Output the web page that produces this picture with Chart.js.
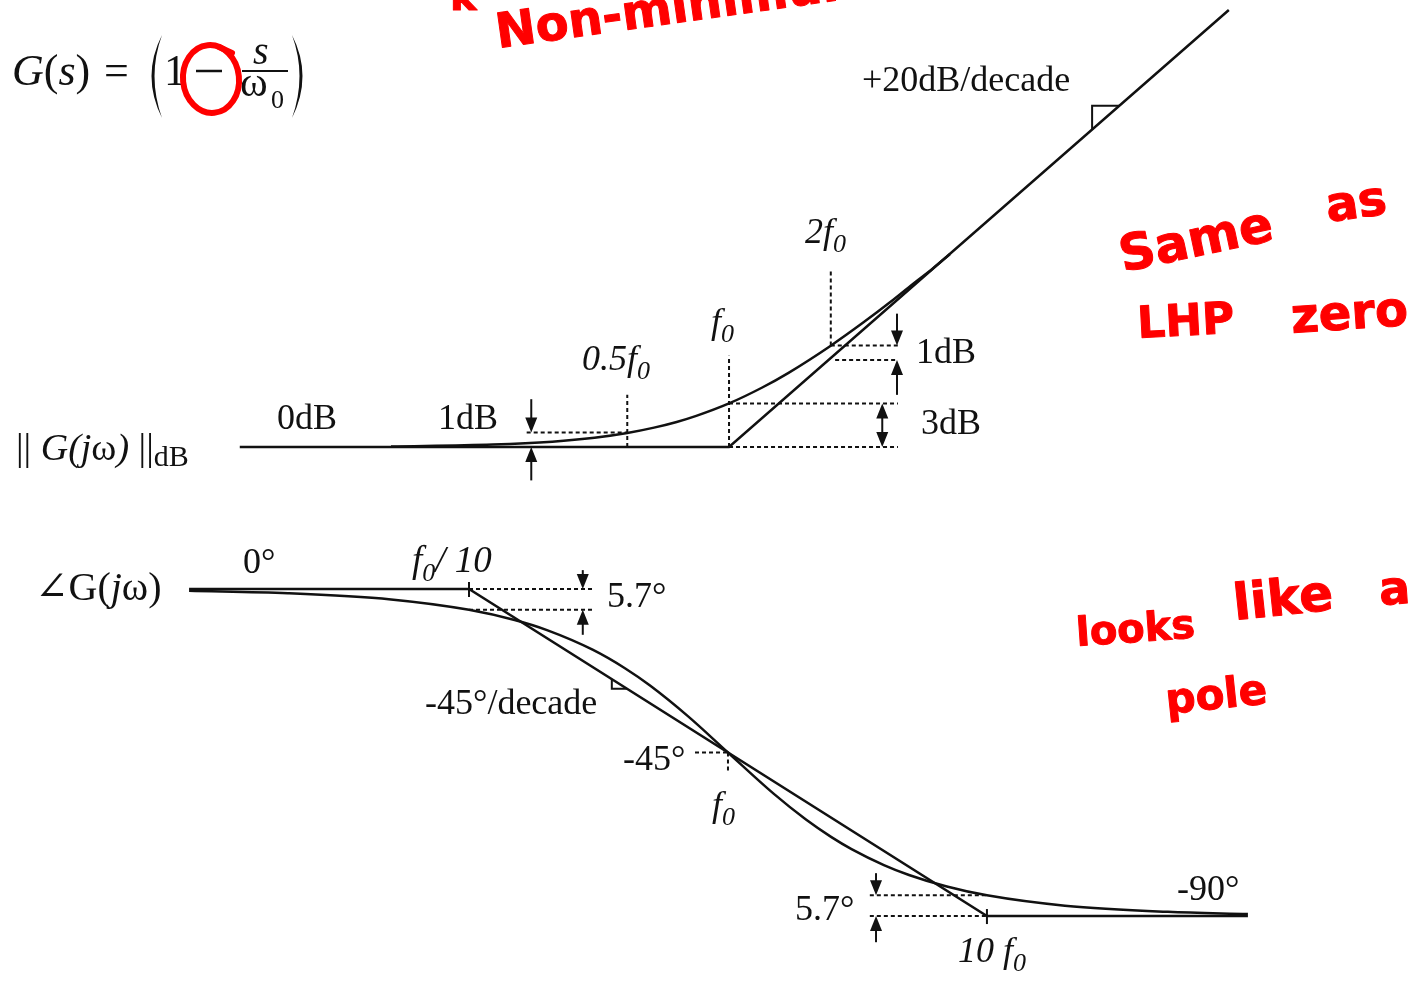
<!DOCTYPE html>
<html>
<head>
<meta charset="utf-8">
<script src="https://cdn.jsdelivr.net/npm/chart.js@4.4.1/dist/chart.umd.min.js"></script>
<style>
  html, body { margin: 0; padding: 0; background: #fff; }
  #wrap { width: 1422px; height: 984px; position: relative; }
</style>
</head>
<body>
<div id="wrap"><canvas id="bode"></canvas></div>
<script>
// frequencies are in units of f0, magnitude in dB, phase in degrees

// magnitude: asymptote and actual response
const magAsymF  = [0.0357, 1, 30.1];
const magAsymDb = [0, 0, 30.14];
const magCurveF  = [0.1, 0.2, 0.3, 0.4, 0.5, 0.6, 0.7, 0.8, 1, 1.25, 1.5, 2, 2.5, 3, 3.5, 4, 4.5];
const magCurveDb = [0.04, 0.17, 0.37, 0.64, 0.97, 1.34, 1.73, 2.15, 3.01, 4.09, 5.12, 6.99, 8.60, 10.0, 11.25, 12.3, 13.3];

// phase: asymptote and actual response
const phAsymF   = [0.0083, 0.1, 10, 101.8];
const phAsymDeg = [0, 0, -90, -90];
const phCurveF   = [0.0083, 0.02, 0.05, 0.1, 0.15, 0.2, 0.3, 0.4, 0.5, 0.7, 1, 1.5, 2, 2.5, 3, 4, 5, 7, 10, 20, 50, 101.8];
const phCurveDeg = [-0.48, -1.15, -2.86, -5.71, -8.53, -11.31, -16.70, -21.80, -26.57, -34.99, -45, -56.31, -63.43, -68.20, -71.57, -75.96, -78.69, -81.87, -84.29, -87.14, -88.85, -89.44];

// dotted guide segments [f1, v1, f2, v2]
const magGuides = [
  [0.252, 1, 0.5, 1],
  [0.5, 0, 0.5, 3.6],
  [1, 0, 1, 6.3],
  [2, 7, 2, 12.3],
  [1, 3, 3.16, 3],
  [1, 0, 3.16, 0],
  [2, 7, 3.16, 7],
  [2.06, 6, 3.16, 6]
];
const phGuides = [
  [0.1, 0, 0.301, 0],
  [0.1, -5.7, 0.301, -5.7],
  [0.746, -45, 1, -45],
  [1, -45, 1, -50.5],
  [3.53, -84.3, 10, -84.3],
  [3.53, -90, 10, -90]
];

// dimension arrows [f, from, to, double-headed]
const magArrows = [
  [0.26, 3.3, 1, false],
  [0.26, -2.3, 0, false],
  [3.14, 9.2, 7, false],
  [3.14, 3.6, 6, false],
  [2.84, 0, 3, true]
];
const phArrows = [
  [0.275, 5.2, 0, false],
  [0.275, -12.6, -5.7, false],
  [3.73, -78.2, -84.3, false],
  [3.73, -97.2, -90, false]
];

// break-point ticks on the phase asymptote [f, deg]
const phTicks = [[0.1, 0], [10, -90]];

// slope markers: pair of frequencies on each asymptote
const magSlopeMark = [11.86, 14.28];
const phSlopeMark  = [0.356, 0.407];

const SERIF = '"Liberation Serif", "DejaVu Serif", serif';
const R = s => s + 'px ' + SERIF;
const I = s => 'italic ' + s + 'px ' + SERIF;

// text runs: [x, baseline, [[text, font, dy], ...]]
const labels = [
  [862, 91, [['+20dB/decade', R(36)]]],
  [805, 243, [['2f', I(36)], ['0', I(26), 9]]],
  [711, 333, [['f', I(36)], ['0', I(26), 9]]],
  [582, 370, [['0.5f', I(36)], ['0', I(26), 9]]],
  [916, 363, [['1dB', R(36)]]],
  [921, 434, [['3dB', R(36)]]],
  [277, 429, [['0dB', R(36)]]],
  [438, 429, [['1dB', R(36)]]],
  [16, 460, [['|| ', R(38)], ['G(j', I(38)], ['ω', R(38)], [') ', I(38)], ['||', R(38)], ['dB', R(30), 6]]],
  [35, 600, [['∠', R(40)], ['G(', R(40)], ['j', I(40)], ['ω)', R(40)]]],
  [243, 573, [['0°', R(36)]]],
  [412, 572, [['f', I(37)], ['0', I(26), 9], ['/ 10', I(37)]]],
  [607, 607, [['5.7°', R(36)]]],
  [425, 714, [['-45°/decade', R(36)]]],
  [623, 770, [['-45°', R(36)]]],
  [712, 816, [['f', I(36)], ['0', I(26), 9]]],
  [795, 920, [['5.7°', R(36)]]],
  [1177, 900, [['-90°', R(36)]]],
  [958, 962, [['10 f', I(36)], ['0', I(26), 9]]]
];

// red marker notes: [text, x, baseline, size, angle°]
const notes = [
  ['k', 450, 10, 40, 0],
  ['Non-minimum', 498, 48, 48, -8],
  ['Same', 1123, 272, 50, -12],
  ['as', 1328, 222, 48, -8],
  ['LHP', 1138, 338, 44, -3],
  ['zero', 1292, 333, 48, -4],
  ['looks', 1077, 646, 40, -4],
  ['like', 1235, 620, 50, -6],
  ['a', 1380, 605, 46, -4],
  ['pole', 1167, 714, 42, -6]
];

const pts = (xs, ys) => xs.map((x, i) => ({ x: x, y: ys[i] }));

function solid(data, xId, yId, smooth) {
  return {
    data: data, xAxisID: xId, yAxisID: yId,
    borderColor: '#111', borderWidth: 2.5, pointRadius: 0, fill: false,
    tension: 0, cubicInterpolationMode: smooth ? 'monotone' : 'default'
  };
}
function dotted(g, xId, yId) {
  return {
    data: [{ x: g[0], y: g[1] }, { x: g[2], y: g[3] }], xAxisID: xId, yAxisID: yId,
    borderColor: '#111', borderWidth: 2, borderDash: [4, 3], pointRadius: 0, fill: false
  };
}

const datasets = [
  solid(pts(magAsymF, magAsymDb), 'xm', 'ym', false),
  solid(pts(magCurveF, magCurveDb), 'xm', 'ym', true),
  solid(pts(phAsymF, phAsymDeg), 'xp', 'yp', false),
  solid(pts(phCurveF, phCurveDeg), 'xp', 'yp', true)
];
magGuides.forEach(g => datasets.push(dotted(g, 'xm', 'ym')));
phGuides.forEach(g => datasets.push(dotted(g, 'xp', 'yp')));

// y pixel on a drawn polyline at pixel x
function yOnLine(meta, px) {
  const p = meta.data;
  for (let i = 1; i < p.length; i++) {
    if (px >= p[i - 1].x && px <= p[i].x) {
      const t = (px - p[i - 1].x) / (p[i].x - p[i - 1].x);
      return p[i - 1].y + t * (p[i].y - p[i - 1].y);
    }
  }
  return p[p.length - 1].y;
}

function arrowHead(ctx, x, y, dir) {
  ctx.beginPath();
  ctx.moveTo(x, y);
  ctx.lineTo(x - 6, y - dir * 15);
  ctx.lineTo(x + 6, y - dir * 15);
  ctx.closePath();
  ctx.fill();
}

function drawArrows(ctx, list, xs, ys) {
  list.forEach(a => {
    const x = xs.getPixelForValue(a[0]);
    const y1 = ys.getPixelForValue(a[1]);
    const y2 = ys.getPixelForValue(a[2]);
    const dir = Math.sign(y2 - y1);
    ctx.beginPath();
    ctx.moveTo(x, a[3] ? y1 + dir * 12 : y1);
    ctx.lineTo(x, y2 - dir * 12);
    ctx.stroke();
    arrowHead(ctx, x, y2, dir);
    if (a[3]) arrowHead(ctx, x, y1, -dir);
  });
}

function slopeMark(ctx, meta, xs, pair) {
  const x1 = xs.getPixelForValue(pair[0]);
  const x2 = xs.getPixelForValue(pair[1]);
  const y1 = yOnLine(meta, x1);
  const y2 = yOnLine(meta, x2);
  ctx.beginPath();
  ctx.moveTo(x1, y1);
  ctx.lineTo(x1, y2);
  ctx.lineTo(x2, y2);
  ctx.stroke();
}

const decorations = {
  id: 'decorations',
  afterDraw(chart) {
    const ctx = chart.ctx;
    const s = chart.scales;
    ctx.save();
    ctx.strokeStyle = '#111';
    ctx.fillStyle = '#111';
    ctx.lineWidth = 2;

    drawArrows(ctx, magArrows, s.xm, s.ym);
    drawArrows(ctx, phArrows, s.xp, s.yp);

    phTicks.forEach(t => {
      const x = s.xp.getPixelForValue(t[0]);
      const y = s.yp.getPixelForValue(t[1]);
      ctx.beginPath();
      ctx.moveTo(x, y - 7);
      ctx.lineTo(x, y + 8);
      ctx.stroke();
    });

    slopeMark(ctx, chart.getDatasetMeta(0), s.xm, magSlopeMark);
    slopeMark(ctx, chart.getDatasetMeta(2), s.xp, phSlopeMark);

    // text labels
    ctx.textBaseline = 'alphabetic';
    labels.forEach(l => {
      let cx = l[0];
      l[2].forEach(r => {
        ctx.font = r[1];
        ctx.fillText(r[0], cx, l[1] + (r[2] || 0));
        cx += ctx.measureText(r[0]).width;
      });
    });

    // transfer function G(s) = (1 - s/w0)
    ctx.font = I(44);
    ctx.fillText('G', 12, 85);
    let cx = 12 + ctx.measureText('G').width;
    ctx.font = R(44);
    ctx.fillText('(', cx, 85); cx += ctx.measureText('(').width;
    ctx.font = I(44);
    ctx.fillText('s', cx, 85); cx += ctx.measureText('s').width;
    ctx.font = R(44);
    ctx.fillText(')', cx, 85);
    ctx.fillText('=', 104, 85);
    ctx.fillText('1', 164, 85);

    // tall brackets
    ctx.beginPath();
    ctx.moveTo(162, 35); ctx.quadraticCurveTo(141, 76, 162, 118);
    ctx.quadraticCurveTo(147, 76, 162, 35);
    ctx.fill();
    ctx.beginPath();
    ctx.moveTo(292, 35); ctx.quadraticCurveTo(313, 76, 292, 118);
    ctx.quadraticCurveTo(307, 76, 292, 35);
    ctx.fill();

    // minus sign and fraction
    ctx.lineWidth = 2.5;
    ctx.beginPath(); ctx.moveTo(196, 71); ctx.lineTo(222, 71); ctx.stroke();
    ctx.lineWidth = 2;
    ctx.beginPath(); ctx.moveTo(242, 71); ctx.lineTo(288, 71); ctx.stroke();
    ctx.font = I(40);
    ctx.fillText('s', 253, 64);
    ctx.font = R(42);
    ctx.fillText('ω', 240, 96);
    ctx.font = R(26);
    ctx.fillText('0', 271, 108);

    // red marker
    ctx.strokeStyle = '#ff0000';
    ctx.fillStyle = '#ff0000';
    ctx.lineWidth = 6;
    ctx.lineCap = 'round';
    ctx.beginPath();
    ctx.ellipse(211, 79, 28, 34, -0.1, 0, Math.PI * 2);
    ctx.stroke();
    ctx.beginPath(); ctx.moveTo(219, 47); ctx.lineTo(232, 53); ctx.stroke();

    ctx.lineWidth = 1;
    ctx.lineJoin = 'round';
    notes.forEach(n => {
      ctx.save();
      ctx.translate(n[1], n[2]);
      ctx.rotate(n[4] * Math.PI / 180);
      ctx.font = 'bold ' + n[3] + 'px "DejaVu Sans", sans-serif';
      ctx.fillText(n[0], 0, 0);
      ctx.strokeText(n[0], 0, 0);
      ctx.restore();
    });
    ctx.restore();
  }
};

new Chart(document.getElementById('bode'), {
  type: 'line',
  data: { datasets: datasets },
  options: {
    responsive: true,
    maintainAspectRatio: false,
    animation: false,
    events: [],
    layout: { padding: 0 },
    plugins: { legend: { display: false }, tooltip: { enabled: false } },
    scales: {
      xm: { axis: 'x', type: 'logarithmic', display: false, min: 0.006972, max: 112.2 },
      ym: { axis: 'y', type: 'linear', display: false, min: -37.03, max: 30.83 },
      xp: { axis: 'x', type: 'logarithmic', display: false, min: 0.001545, max: 478.6 },
      yp: { axis: 'y', type: 'linear', display: false, min: -108.7, max: 162.1 }
    }
  },
  plugins: [decorations]
});
</script>
</body>
</html>
